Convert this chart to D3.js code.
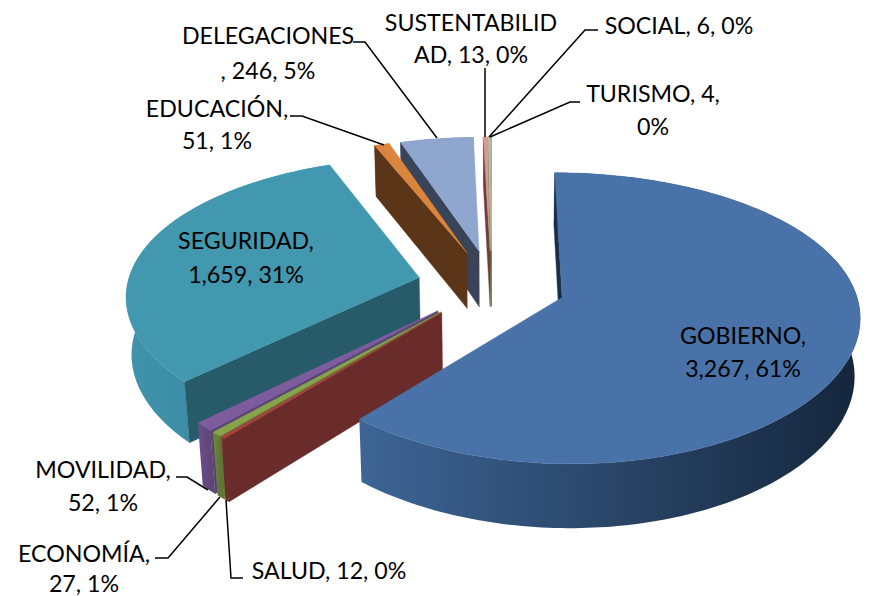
<!DOCTYPE html>
<html>
<head>
<meta charset="utf-8">
<script src="https://cdn.jsdelivr.net/npm/d3@7"></script>
<style>
    html, body { margin: 0; padding: 0; background: #fff; }
    text { font-family: Lato, "Open Sans", sans-serif; font-size: 23.2px; fill: #000; }
</style>
</head>
<body>
<div id="chart"></div>
<script>
// data, in drawing order round the pie (clockwise from the top)
const categories = ["GOBIERNO", "SALUD", "ECONOMÍA", "MOVILIDAD", "SEGURIDAD", "EDUCACIÓN", "DELEGACIONES", "SUSTENTABILIDAD", "SOCIAL", "TURISMO"];
const values = [3267, 12, 27, 52, 1659, 51, 246, 13, 6, 4];

// colours per slice
const topColors = ["#4872A8", "#A8423F", "#86A44A", "#7C5C9C", "#4198AF", "#DB843D", "#8FA6CE", "#D99694", "#B5C98E", "#BFBFBF"];
const cutColors = ["#1A2E49", "#692C2B", "#5F7634", "#5A4272", "#285B69", "#5A3518", "#3A4459", "#6E3F3E", "#5F7634", "#666666"];
const wallStart = ["#3E6595", "#8A3432", "#6F8A3A", "#6B4F8A", "#3F93AB", "#A8642C", "#6A7EA0", "#A06E6C", "#8CA060", "#909090"];
const wallEnd = ["#15263C", "#692C2B", "#5F7634", "#5F4679", "#37829A", "#8A5020", "#4A5A78", "#804F4E", "#708048", "#707070"];

// label layout: where the text breaks, its centre, baselines and leader line
const labelLayout = {
    "GOBIERNO": {split: 10, x: 743, y: [344, 377]},
    "SALUD": {split: 0, x: 329, y: [579], line: [[243, 578], [231, 578], [226, 500]]},
    "ECONOMÍA": {split: 10, x: 84, y: [562, 592], line: [[155, 558], [168, 558], [220, 497]]},
    "MOVILIDAD": {split: 11, x: 103, y: [478, 511], line: [[176, 477], [187, 477], [208, 490]]},
    "SEGURIDAD": {split: 11, x: 246, y: [249, 283]},
    "EDUCACIÓN": {split: 11, x: 217, y: [117, 149], line: [[290, 116], [302, 116], [384, 145]]},
    "DELEGACIONES": {split: 12, x: 268, y: [44, 79], line: [[353, 42], [365, 42], [437, 138]]},
    "SUSTENTABILIDAD": {split: 13, x: 471, y: [31, 63], line: [[485, 68], [485, 137]]},
    "SOCIAL": {split: 0, x: 679, y: [34], line: [[598, 30], [585, 30], [489, 137]]},
    "TURISMO": {split: 11, x: 653, y: [102, 135], line: [[580, 102], [570, 102], [490, 137]]}
};

// back to front
const drawOrder = [9, 8, 7, 6, 5, 4, 3, 2, 1, 0];

const width = 869, height = 596;

// fake 3D camera: x/y on the ground, z 0 = top face, z 1 = bottom
const cam = {cx: 491.5, cy: 285, a: 292, b: 139, h: 58, k: 0.142, kx: 0.115, m: 0.015, explode: 0.255};

function project(x, y, z) {
    let s = 1 / (1 - cam.k * y + cam.m * z);
    let sx = 1 / (1 - cam.kx * y + cam.m * z);
    return [cam.cx + x * cam.a * sx, cam.cy + (y * cam.b + z * cam.h) * s];
}

let svg = d3.select("#chart").append("svg")
    .attr("width", width)
    .attr("height", height);

let defs = svg.append("defs");
let linePath = d3.line();

let pie = d3.pie().sort(null).value(d => d)(values);
let total = d3.sum(values);
let numFormat = d3.format(",");
let pctFormat = d3.format(".0%");

let sliceGroup = svg.append("g").attr("class", "slices");

drawOrder.forEach(i => {
    let d = pie[i];
    let mid = (d.startAngle + d.endAngle) / 2;
    let ox = Math.sin(mid) * cam.explode;
    let oy = -Math.cos(mid) * cam.explode;

    // rim sample points
    let n = Math.max(2, Math.ceil((d.endAngle - d.startAngle) / 0.02));
    let angles = d3.range(n + 1).map(j => d.startAngle + (d.endAngle - d.startAngle) * j / n);
    let rim = z => angles.map(a => project(ox + Math.sin(a), oy - Math.cos(a), z));
    let apex = z => project(ox, oy, z);

    let rimTop = rim(0), rimBottom = rim(1);
    let g = sliceGroup.append("g");

    // outer wall, shaded left to right
    let xs = d3.extent(rimTop, p => p[0]);
    let grad = defs.append("linearGradient")
        .attr("id", "wall" + i)
        .attr("gradientUnits", "userSpaceOnUse")
        .attr("x1", xs[0]).attr("x2", xs[1]).attr("y1", 0).attr("y2", 0);
    grad.append("stop").attr("offset", "0%").attr("stop-color", wallStart[i]);
    grad.append("stop").attr("offset", "100%").attr("stop-color", wallEnd[i]);

    g.append("path")
        .attr("d", linePath(rimTop.concat(rimBottom.slice().reverse())) + "Z")
        .attr("fill", "url(#wall" + i + ")");

    // the two cut faces, only the ones turned to the camera
    // (d3.polygonArea is positive for clockwise on screen with y down reversed)
    let startFace = [apex(0), rimTop[0], rimBottom[0], apex(1)];
    let endFace = [apex(0), rimTop[n], rimBottom[n], apex(1)];
    let visible = [];
    if (d3.polygonArea(startFace) > 0) visible.push(startFace);
    if (d3.polygonArea(endFace) < 0) visible.push(endFace);

    visible.forEach(face => {
        g.append("path")
            .attr("d", linePath(face) + "Z")
            .attr("fill", cutColors[i])
            .attr("stroke", cutColors[i])
            .attr("stroke-width", 0.4);
    });

    // top face
    g.append("path")
        .attr("d", linePath([apex(0)].concat(rimTop)) + "Z")
        .attr("fill", topColors[i])
        .attr("stroke", topColors[i])
        .attr("stroke-width", 0.4);
});

// leader lines and labels
let labelGroup = svg.append("g").attr("class", "labels");

categories.forEach((name, i) => {
    let layout = labelLayout[name];
    let full = name + ", " + numFormat(values[i]) + ", " + pctFormat(values[i] / total);
    let lines = layout.split ? [full.slice(0, layout.split).trim(), full.slice(layout.split).trim()] : [full];

    if (layout.line) {
        labelGroup.append("path")
            .attr("d", linePath(layout.line))
            .attr("fill", "none")
            .attr("stroke", "#000")
            .attr("stroke-width", 1.5);
    }

    lines.forEach((t, j) => {
        labelGroup.append("text")
            .attr("x", layout.x)
            .attr("y", layout.y[j])
            .attr("text-anchor", "middle")
            .text(t);
    });
});
</script>
</body>
</html>
